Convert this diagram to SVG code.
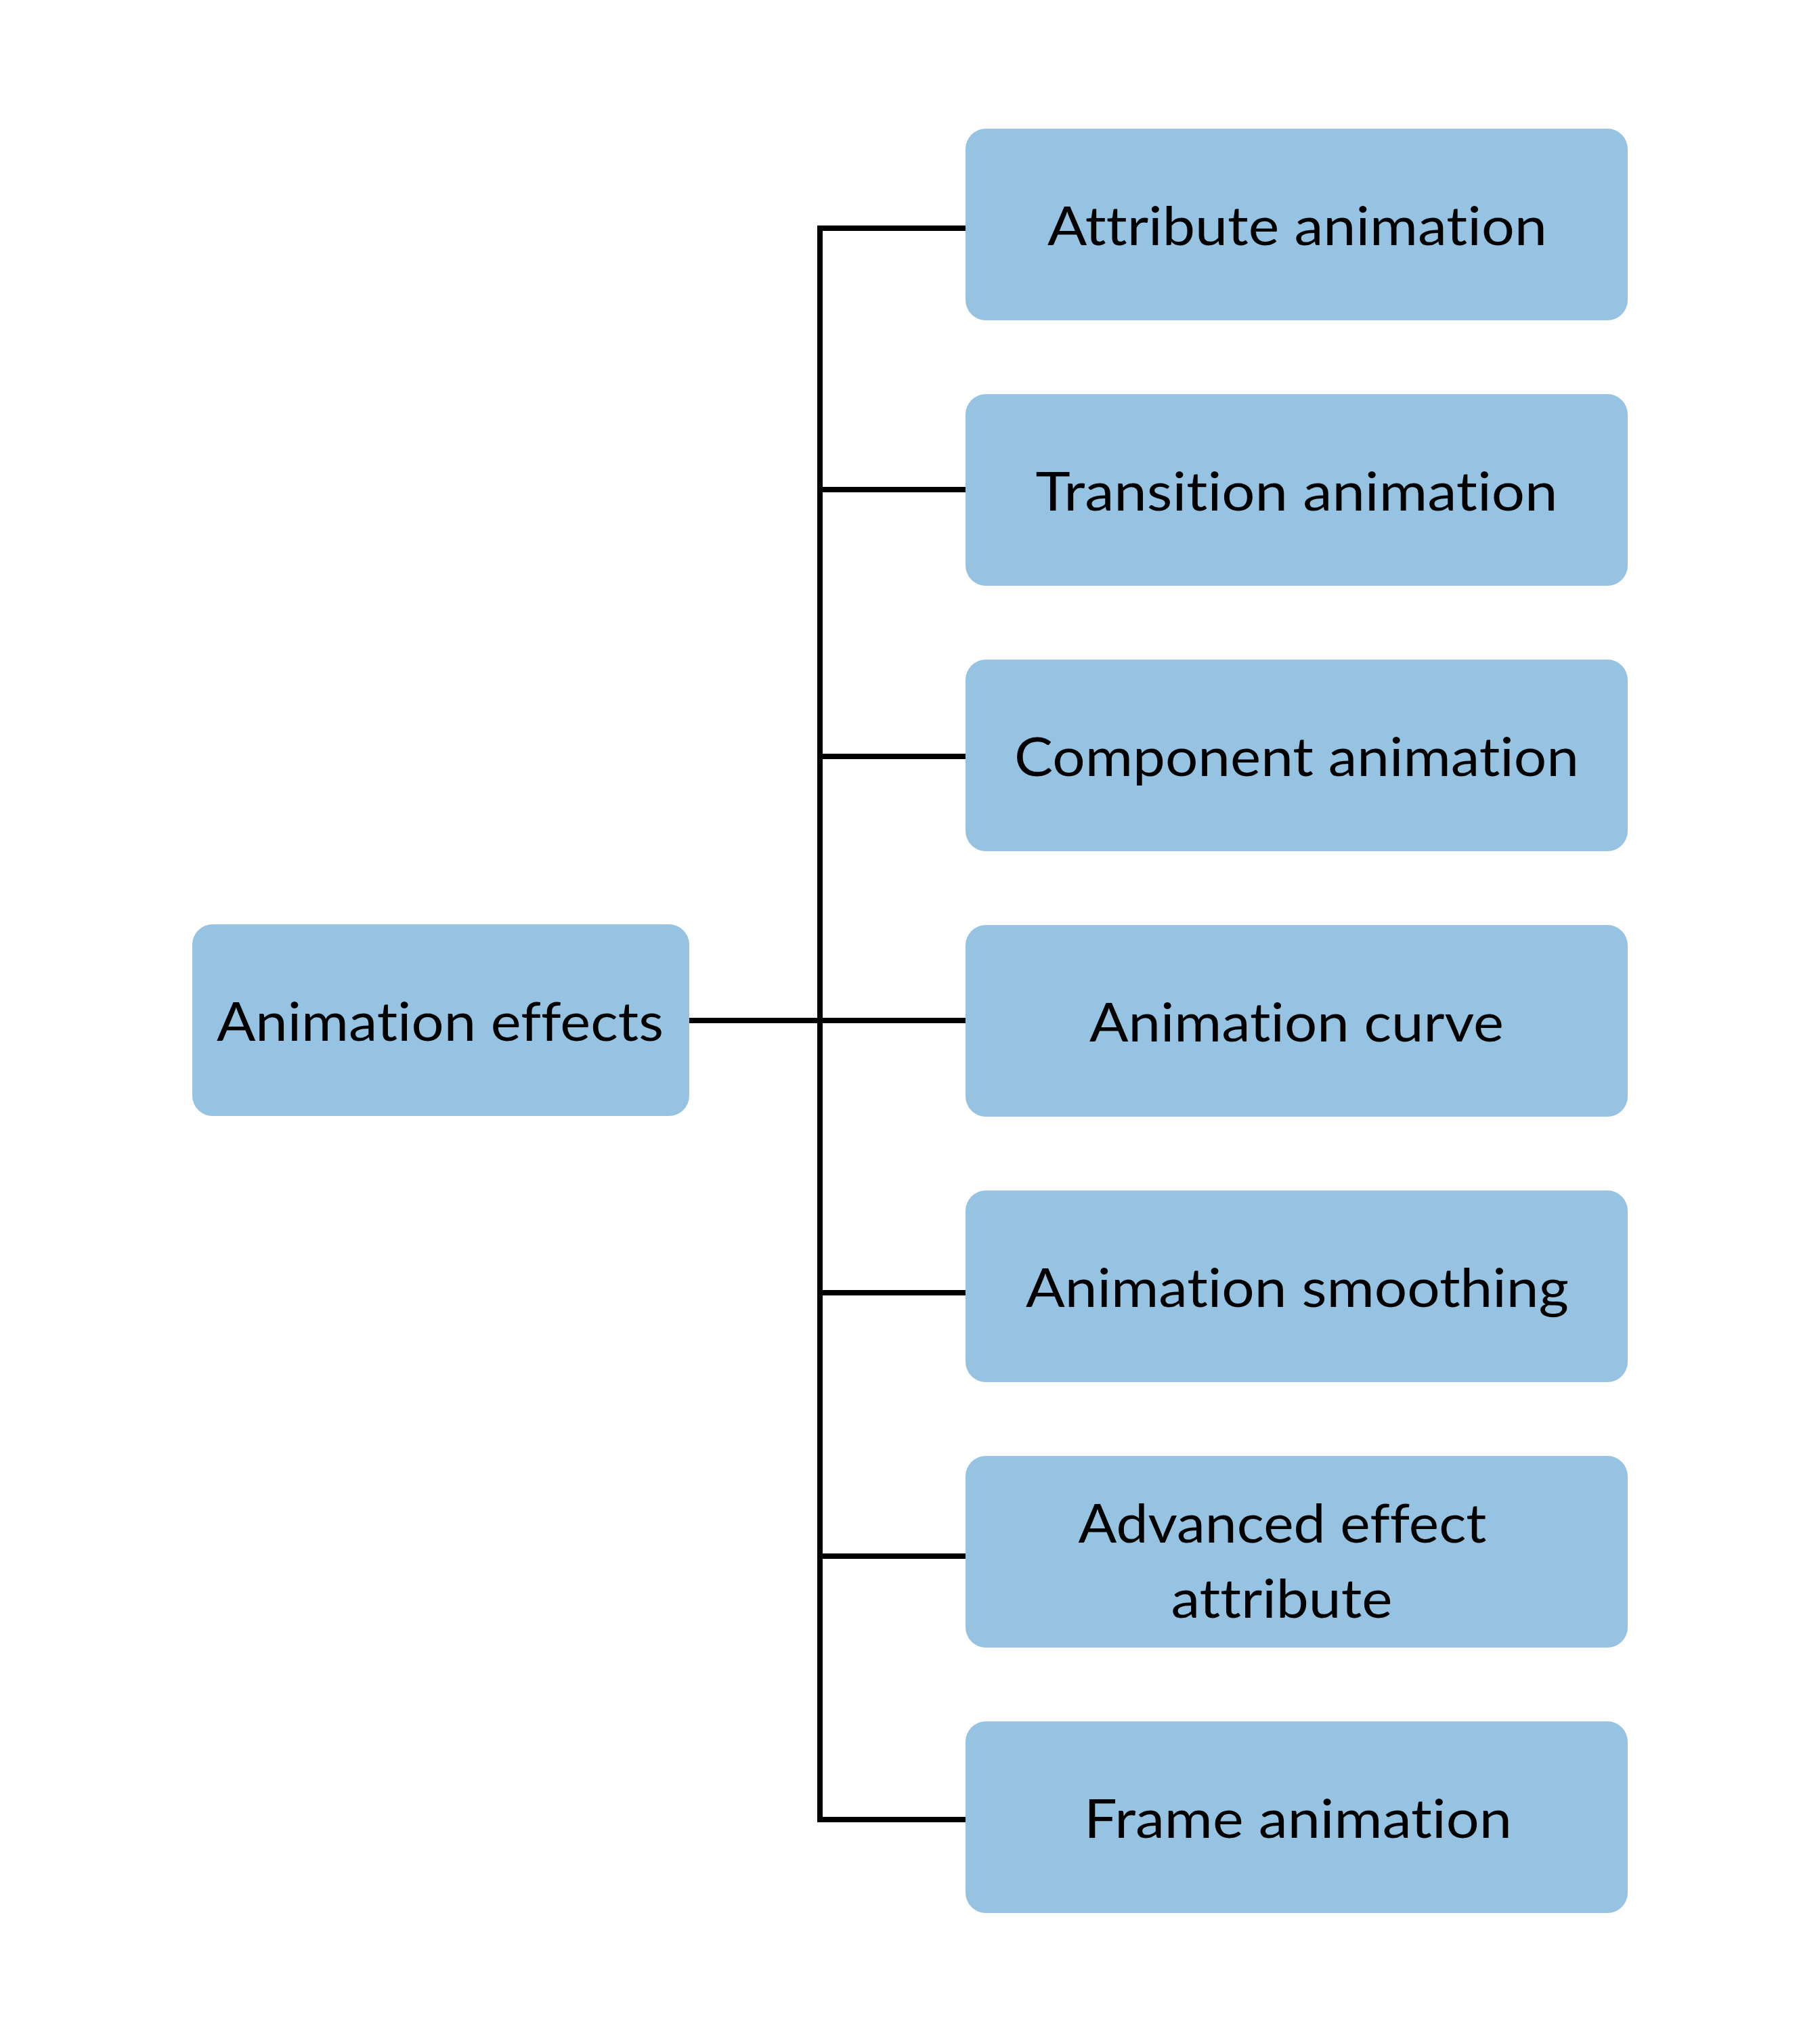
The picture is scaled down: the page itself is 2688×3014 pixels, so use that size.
<svg xmlns="http://www.w3.org/2000/svg" width="2688" height="3014" viewBox="0 0 2688 3014">
<style>
.box{fill:#96C3E1;}
.lbl{font-family:Lato,"Open Sans","Liberation Sans",sans-serif;font-size:80px;fill:#000;text-anchor:middle;font-variant-ligatures:none;font-feature-settings:"liga" 0,"dlig" 0;}
.conn{fill:none;stroke:#000;stroke-width:8;stroke-linejoin:miter;stroke-linecap:butt;}
</style>
<rect width="2688" height="3014" fill="#fff"/>
<g id="connectors">
<polyline class="conn" points="1426,337 1211,337 1211,2687 1426,2687"/>
<line class="conn" x1="1211" y1="723" x2="1426" y2="723"/>
<line class="conn" x1="1211" y1="1117" x2="1426" y2="1117"/>
<line class="conn" x1="1018" y1="1507" x2="1426" y2="1507"/>
<line class="conn" x1="1211" y1="1909" x2="1426" y2="1909"/>
<line class="conn" x1="1211" y1="2298" x2="1426" y2="2298"/>
</g>
<g id="root">
<rect class="box" x="284" y="1365" width="734" height="283" rx="30"/>
<text class="lbl" x="650" y="1537" textLength="660" lengthAdjust="spacingAndGlyphs">Animation effects</text>
</g>
<g id="n1">
<rect class="box" x="1426" y="190" width="978" height="283" rx="30"/>
<text class="lbl" x="1916" y="362" textLength="738" lengthAdjust="spacingAndGlyphs">Attribute animation</text>
</g>
<g id="n2">
<rect class="box" x="1426" y="582" width="978" height="283" rx="30"/>
<text class="lbl" x="1915" y="754" textLength="771" lengthAdjust="spacingAndGlyphs">Transition animation</text>
</g>
<g id="n3">
<rect class="box" x="1426" y="974" width="978" height="283" rx="30"/>
<text class="lbl" x="1915" y="1146" textLength="834" lengthAdjust="spacingAndGlyphs">Component animation</text>
</g>
<g id="n4">
<rect class="box" x="1426" y="1366" width="978" height="283" rx="30"/>
<text class="lbl" x="1915" y="1538" textLength="612" lengthAdjust="spacingAndGlyphs">Animation curve</text>
</g>
<g id="n5">
<rect class="box" x="1426" y="1758" width="978" height="283" rx="30"/>
<text class="lbl" x="1916" y="1930" textLength="802" lengthAdjust="spacingAndGlyphs">Animation smoothing</text>
</g>
<g id="n6">
<rect class="box" x="1426" y="2150" width="978" height="283" rx="30"/>
<text class="lbl" x="1894" y="2278" textLength="603" lengthAdjust="spacingAndGlyphs">Advanced effect</text>
<text class="lbl" x="1893" y="2389" textLength="327" lengthAdjust="spacingAndGlyphs">attribute</text>
</g>
<g id="n7">
<rect class="box" x="1426" y="2542" width="978" height="283" rx="30"/>
<text class="lbl" x="1917" y="2714" textLength="632" lengthAdjust="spacingAndGlyphs">Frame animation</text>
</g>
</svg>
